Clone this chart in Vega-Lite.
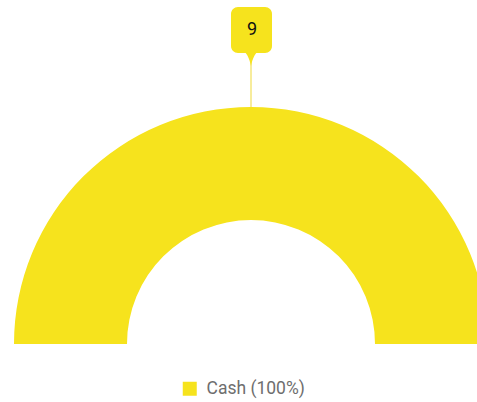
{
  "$schema": "https://vega.github.io/schema/vega-lite/v6.json",
  "width": 477,
  "height": 402,
  "autosize": {"type": "none"},
  "padding": 0,
  "background": "white",
  "config": {"view": {"stroke": null}, "font": "Roboto"},
  "data": {"values": [{"category": "Cash (100%)", "value": 9}]},
  "encoding": {
    "x": {"datum": 0, "type": "quantitative", "scale": {"domain": [-251, 226], "nice": false, "zero": false}, "axis": null},
    "y": {"datum": 0, "type": "quantitative", "scale": {"domain": [-58, 344], "nice": false, "zero": false}, "axis": null}
  },
  "layer": [
    {
      "mark": {"type": "arc", "radius": 237, "radius2": 124, "clip": true},
      "encoding": {
        "theta": {"field": "value", "type": "quantitative", "scale": {"range": [-1.5708, 1.5708]}},
        "color": {
          "field": "category", "type": "nominal",
          "scale": {"range": ["#F6E31D"]},
          "legend": {
            "orient": "none", "legendX": 181, "legendY": 380, "title": null,
            "symbolType": "square", "symbolSize": 196, "symbolStrokeWidth": 0,
            "labelFontSize": 17.5, "labelColor": "#6e6e6e", "labelFont": "Roboto",
            "labelOffset": 8
          }
        }
      }
    },
    {
      "mark": {"type": "rule", "color": "#F2E05A", "strokeWidth": 1.2},
      "encoding": {
        "y": {"datum": 237},
        "y2": {"datum": 284}
      }
    },
    {
      "mark": {"type": "point", "filled": true, "color": "#F6E31D", "opacity": 1, "size": 900, "shape": "M-0.7,-0.3 C-0.3,-0.2 -0.1,0.3 0,0.8 C0.1,0.3 0.3,-0.2 0.7,-0.3 Z"},
      "encoding": {"y": {"datum": 290}}
    },
    {
      "mark": {"type": "rect", "color": "#F6E31D", "cornerRadius": 7},
      "encoding": {
        "x": {"datum": -20},
        "x2": {"datum": 21},
        "y": {"datum": 291},
        "y2": {"datum": 337}
      }
    },
    {
      "mark": {"type": "text", "color": "#111111", "fontSize": 18, "font": "Roboto", "baseline": "middle", "align": "center"},
      "encoding": {"text": {"field": "value", "type": "quantitative"}, "y": {"datum": 314}, "x": {"datum": 1}}
    }
  ]
}
